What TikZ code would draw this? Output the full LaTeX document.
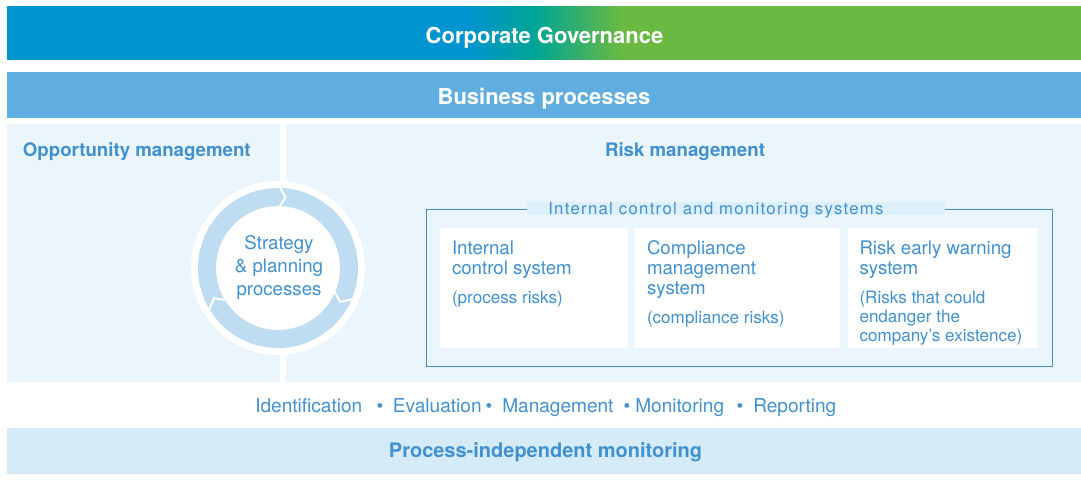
\documentclass[tikz,border=0pt]{standalone}
\usepackage{fontspec}
\setmainfont{TeX Gyre Heros}
\newfontfamily\trackfont[LetterSpace=8]{TeX Gyre Heros}
\usetikzlibrary{positioning, calc}

\definecolor{govblue}{HTML}{0094D0}
\definecolor{govteal}{HTML}{00A594}
\definecolor{govgreen}{HTML}{6AB942}
\definecolor{bizblue}{HTML}{5FAEDF}
\definecolor{panelbg}{HTML}{EAF5FC}
\definecolor{ringblue}{HTML}{BEDDF3}
\definecolor{textblue}{HTML}{4191CE}
\definecolor{titlebg}{HTML}{DCEFFA}
\definecolor{monbg}{HTML}{D5EBF8}

\pgfdeclarehorizontalshading{govshade}{100bp}{color(0bp)=(govblue); color(46.5bp)=(govblue); color(49.6bp)=(govteal); color(53.6bp)=(govgreen); color(100bp)=(govgreen)}

\begin{document}
\begin{tikzpicture}[
    x=0.75pt, y=-0.75pt,
    band/.style={draw=none, inner sep=0pt, minimum width=805.5pt, minimum height=34.5pt},
    bandtext/.style={font=\bfseries\fontsize{16.5}{19}\selectfont, text=white, inner sep=0pt, anchor=base},
    headtext/.style={font=\bfseries\fontsize{14}{17}\selectfont, text=textblue, inner sep=0pt, anchor=base},
    panel/.style={fill=panelbg, draw=none, inner sep=0pt, minimum height=193.125pt},
    sysbox/.style={fill=white, draw=none, inner sep=0pt, minimum height=89.8pt},
    systitle/.style={font=\fontsize{14}{15}\selectfont, text=textblue, align=left, inner sep=0pt, anchor=north west},
    sysnote/.style={font=\fontsize{12.8}{14.25}\selectfont, text=textblue, align=left, inner sep=0pt},
    steptext/.style={font=\fontsize{14.3}{17}\selectfont, text=textblue, inner sep=0pt, anchor=base west},
    dot/.style={font=\fontsize{14.3}{17}\selectfont, text=textblue, inner sep=0pt, anchor=base},
    chevron/.style={draw=white, line width=1.5pt, line join=miter}
]
\useasboundingbox (0,0) rectangle (1081,485);

% Top bands
\node[band, minimum height=39.75pt, shade, shading=govshade] (gov) at (544,33.5) {};
\node[bandtext] (govtext) at (544.5,43.3) {Corporate Governance};
\node[band, fill=bizblue] (biz) at (544,95) {};
\node[bandtext] (biztext) at (544,104) {Business processes};

% Panels
\node[panel, minimum width=204.375pt] (opp) at (143.25,252.75) {};
\node[panel, minimum width=596.25pt] (risk) at (683.5,252.75) {};
\node[headtext, anchor=base west] (opptext) at (22.7,156) {Opportunity management};
\node[headtext] (risktext) at (685,156) {Risk management};

% Strategy cycle
\coordinate (cyc) at (278,268);
\fill[white] (cyc) circle[radius=87];
\fill[ringblue, even odd rule] (cyc) circle[radius=80] (cyc) circle[radius=62];
\draw[chevron] ($(cyc)+(-88.7:81)$) -- ($(cyc)+(-84:71)$) -- ($(cyc)+(-88.7:61)$);
\draw[chevron] ($(cyc)+(22.5:81)$) -- ($(cyc)+(28.6:71)$) -- ($(cyc)+(22.5:61)$);
\draw[chevron] ($(cyc)+(-211.5:81)$) -- ($(cyc)+(-205.3:71)$) -- ($(cyc)+(-211.5:61)$);
\node[font=\fontsize{14}{17.5}\selectfont, text=textblue, align=center, inner sep=0pt] (cyctext) at (279,267.7) {Strategy\\\& planning\\processes};

% Internal control and monitoring systems
\node[draw=textblue, line width=0.7pt, inner sep=0pt, minimum width=469pt, minimum height=117.75pt] (icms) at (739.35,287.5) {};
\node[fill=titlebg, inner sep=0pt, minimum width=313.5pt, minimum height=10pt] (icmsbg) at (736,208.35) {};
\node[font=\trackfont\fontsize{12.5}{15}\selectfont, text=textblue, inner sep=0pt, anchor=base west] (icmstext) at (548,214.3) {Internal control and monitoring systems};

\node[sysbox, minimum width=141pt] (ics) at (534,288.15) {};
\node[sysbox, minimum width=153.75pt] (cms) at (737.5,288.15) {};
\node[sysbox, minimum width=141.75pt] (rews) at (942.5,288.15) {};

\node[systitle] (icstitle) at ($(ics.north west)+(12,12.4)$) {Internal\\control system};
\node[sysnote, below right=8.8pt and 0pt of icstitle.south west] (icsnote) {(process risks)};
\node[systitle] (cmstitle) at ($(cms.north west)+(12,12.4)$) {Compliance\\management\\system};
\node[sysnote, below right=8.8pt and 0pt of cmstitle.south west] (cmsnote) {(compliance risks)};
\node[systitle] (rewstitle) at ($(rews.north west)+(11.5,12.4)$) {Risk early warning\\system};
\node[sysnote, below right=8.8pt and 0pt of rewstitle.south west] (rewsnote) {(Risks that could\\endanger the\\company’s existence)};

% Process steps
\node[steptext] (ident) at (255,412.7) {Identification};
\node[dot] (dot1) at (380,412.7) {\textbullet};
\node[steptext] (eval) at (392.7,412.7) {Evaluation};
\node[dot] (dot2) at (489,412.7) {\textbullet};
\node[steptext] (manage) at (502,412.7) {Management};
\node[dot] (dot3) at (627,412.7) {\textbullet};
\node[steptext] (monit) at (635,412.7) {Monitoring};
\node[dot] (dot4) at (740,412.7) {\textbullet};
\node[steptext] (report) at (753,412.7) {Reporting};

% Bottom band
\node[band, fill=monbg, minimum height=34.125pt] (mon) at (544,450.75) {};
\node[headtext, font=\bfseries\fontsize{15}{18}\selectfont] (montext) at (545.5,457.3) {Process-independent monitoring};

\end{tikzpicture}
\end{document}
